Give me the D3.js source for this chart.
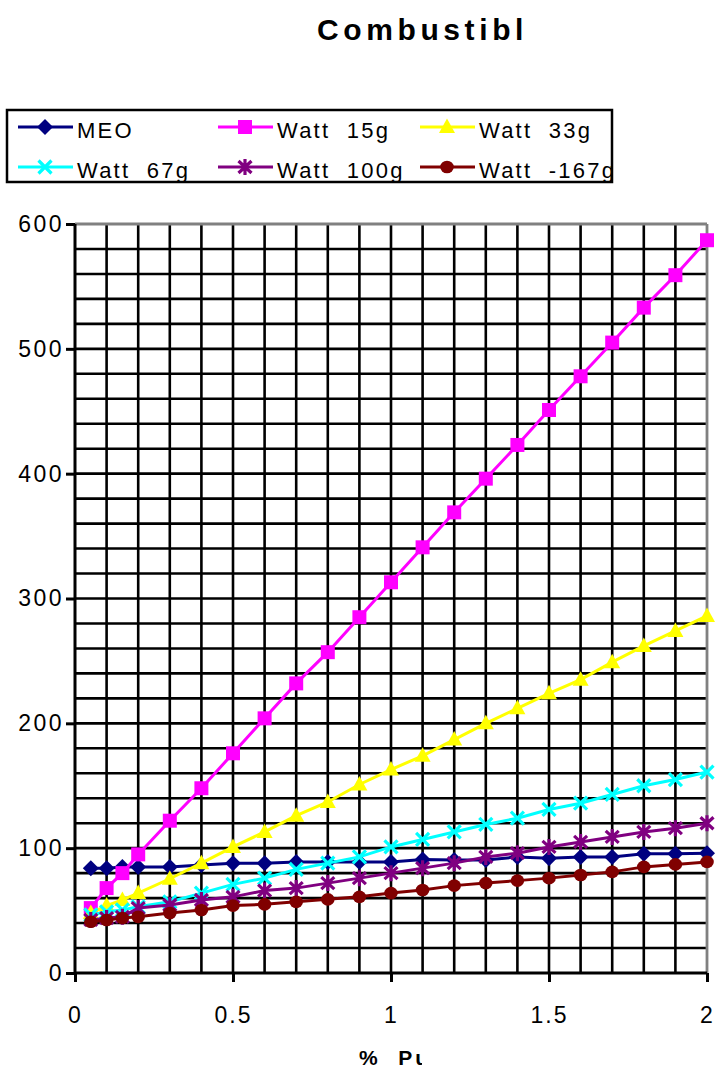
<!DOCTYPE html>
<html>
<head>
<meta charset="utf-8">
<script src="https://cdn.jsdelivr.net/npm/d3@7"></script>
<style>
  html, body { margin: 0; padding: 0; background: #fff; }
  svg { display: block; }
  text { font-family: "Liberation Sans", Arial, sans-serif; fill: #000; white-space: pre; }
</style>
</head>
<body>
<svg id="chart" width="719" height="1072"></svg>
<script>
// Pu content (%) on the x axis
const puPercent = [0.05, 0.1, 0.15, 0.2, 0.3, 0.4, 0.5, 0.6, 0.7, 0.8, 0.9, 1.0,
                   1.1, 1.2, 1.3, 1.4, 1.5, 1.6, 1.7, 1.8, 1.9, 2.0];

const seriesNames = ["MEO", "Watt  15g", "Watt  33g", "Watt  67g", "Watt  100g", "Watt  -167g"];

const meo      = [84, 84, 85, 85, 85, 86.5, 88, 88, 89, 89, 89, 89, 91, 90.6, 90.5, 93, 92, 93, 93, 95.5, 95.5, 96];
const watt15   = [52, 68, 80, 95, 122, 148, 176, 204, 232, 257, 285, 313, 341, 369, 396, 423, 451, 478, 505, 533, 559, 587];
const watt33   = [48, 54, 58.5, 64, 75.5, 88, 101, 113, 126, 137, 151, 163, 174, 187, 200, 212, 224, 235, 249, 262, 274, 286];
const watt67   = [46.5, 49, 50.5, 53, 57, 64, 71, 76, 83, 88, 93, 101, 107, 113, 119, 124, 131, 136, 143, 150, 155, 161];
const watt100  = [42.5, 44, 45, 52, 54.5, 58.5, 61, 66, 68, 72, 76, 80, 84, 88, 93, 96, 101, 105, 109, 113, 116, 120];
const wattM167 = [41, 42.5, 44, 45, 48, 50.5, 54, 55, 57, 59, 61, 64, 66.5, 70, 72, 74, 76, 78.5, 81, 85, 87, 89];

const xTickValues = [0, 0.5, 1, 1.5, 2];
const xTickLabels = ["0", "0.5", "1", "1.5", "2"];
const yTickValues = [0, 100, 200, 300, 400, 500, 600];
const yTickLabels = ["0", "100", "200", "300", "400", "500", "600"];

const titleText = "Combustibl";
const xTitleText = "%  Pu";

const allSeries = [meo, watt15, watt33, watt67, watt100, wattM167];
const colors = ["#000080", "#ff00ff", "#ffff00", "#00ffff", "#800080", "#800000"];
const markers = ["diamond", "square", "triangle", "cross", "star", "circle"];

const svg = d3.select("#chart");

const plot = { left: 75, right: 707, top: 224, bottom: 973 };
const x = d3.scaleLinear().domain([0, 2]).range([plot.left, plot.right]);
const y = d3.scaleLinear().domain([0, 600]).range([plot.bottom, plot.top]);

// Title
svg.append("text")
  .attr("x", 317).attr("y", 40)
  .style("font-size", "30px").style("font-weight", "bold").style("letter-spacing", "4.6px")
  .text(titleText);

// Grid
const grid = svg.append("g");
const xGrid = d3.range(1, 20).map(i => i / 10);
const yGrid = d3.range(1, 30).map(i => i * 20);
grid.selectAll("line.v").data(xGrid).join("line")
  .attr("x1", d => x(d)).attr("x2", d => x(d))
  .attr("y1", y(600)).attr("y2", y(0))
  .attr("stroke", "#000").attr("stroke-width", 2.6);
grid.selectAll("line.h").data(yGrid).join("line")
  .attr("x1", x(0)).attr("x2", x(2))
  .attr("y1", d => y(d)).attr("y2", d => y(d))
  .attr("stroke", "#000").attr("stroke-width", 2.6);

// Plot area border: grey top and right
grid.append("line").attr("x1", x(0)).attr("x2", x(2)).attr("y1", y(600)).attr("y2", y(600))
  .attr("stroke", "#808080").attr("stroke-width", 2.8);
grid.append("line").attr("x1", x(2)).attr("x2", x(2)).attr("y1", y(600)).attr("y2", y(0))
  .attr("stroke", "#808080").attr("stroke-width", 2.8);

// Axes
const xAxis = d3.axisBottom(x).tickValues(xTickValues).tickSize(9).tickPadding(25)
  .tickFormat((d, i) => xTickLabels[i]);
const yAxis = d3.axisLeft(y).tickValues(yTickValues).tickSize(9).tickPadding(2)
  .tickFormat((d, i) => yTickLabels[i]);

const gx = svg.append("g").attr("transform", `translate(0,${plot.bottom})`).call(xAxis);
const gy = svg.append("g").attr("transform", `translate(${plot.left},0)`).call(yAxis);

[gx, gy].forEach(g => {
  g.select(".domain").attr("stroke", "#000").attr("stroke-width", 3);
  g.selectAll(".tick line").attr("stroke", "#000").attr("stroke-width", 3);
  g.selectAll(".tick text").attr("fill", "#000")
    .style("font-family", '"Liberation Sans", Arial, sans-serif');
});
gx.select(".domain").attr("d", `M${plot.left},0H${plot.right}`);
gy.select(".domain").attr("d", `M0,${plot.top}V${plot.bottom}`);
gx.selectAll(".tick text").style("font-size", "23px").style("letter-spacing", "2px");
gy.selectAll(".tick text").style("font-size", "23px").style("letter-spacing", "2.5px");

// X axis title, clipped at its right side
svg.append("clipPath").attr("id", "xtitle-clip")
  .append("rect").attr("x", 300).attr("y", 1030).attr("width", 122).attr("height", 50);
svg.append("text")
  .attr("x", 359).attr("y", 1065)
  .attr("clip-path", "url(#xtitle-clip)")
  .style("font-size", "21px").style("font-weight", "bold").style("letter-spacing", "3px")
  .text(xTitleText);

// Marker shapes
function drawMarker(g, type, color, cx, cy) {
  const m = g.append("g").attr("transform", `translate(${cx},${cy})`);
  if (type === "diamond") {
    m.append("path").attr("d", "M0,-8L8,0L0,8L-8,0Z").attr("fill", color);
  } else if (type === "square") {
    m.append("path").attr("d", "M-7,-7H7V7H-7Z").attr("fill", color);
  } else if (type === "triangle") {
    m.append("path").attr("d", "M0,-8.5L8,6L-8,6Z").attr("fill", color);
  } else if (type === "cross") {
    m.append("path").attr("d", "M-6.5,-6.5L6.5,6.5M-6.5,6.5L6.5,-6.5")
      .attr("stroke", color).attr("stroke-width", 3.2).attr("fill", "none");
  } else if (type === "star") {
    m.append("path").attr("d", "M-6.5,-6L6.5,6M-6.5,6L6.5,-6M0,-8V8")
      .attr("stroke", color).attr("stroke-width", 3.2).attr("fill", "none");
  } else if (type === "circle") {
    m.append("ellipse").attr("rx", 6.8).attr("ry", 6.3).attr("fill", color);
  }
}

// Series lines and markers
const line = d3.line().x((d, i) => x(puPercent[i])).y(d => y(d));
allSeries.forEach((vals, s) => {
  const g = svg.append("g");
  g.append("path").datum(vals).attr("d", line)
    .attr("fill", "none").attr("stroke", colors[s]).attr("stroke-width", 3);
  vals.forEach((v, i) => drawMarker(g, markers[s], colors[s], x(puPercent[i]), y(v)));
});

// Legend
const legend = svg.append("g");
const lg = { x: 7, y: 110, w: 605, h: 72 };
svg.append("clipPath").attr("id", "legend-clip")
  .append("rect").attr("x", lg.x).attr("y", lg.y).attr("width", lg.w - 1).attr("height", lg.h);
legend.append("rect").attr("x", lg.x).attr("y", lg.y).attr("width", lg.w).attr("height", lg.h)
  .attr("fill", "#fff").attr("stroke", "#000").attr("stroke-width", 2.5);
const colX = [18, 218, 420];
const rowY = [127, 167];
const legendItems = legend.append("g").attr("clip-path", "url(#legend-clip)");
seriesNames.forEach((name, s) => {
  const cx = colX[s % 3], cy = rowY[Math.floor(s / 3)];
  legendItems.append("line").attr("x1", cx).attr("x2", cx + 55).attr("y1", cy).attr("y2", cy)
    .attr("stroke", colors[s]).attr("stroke-width", 3);
  drawMarker(legendItems, markers[s], colors[s], cx + 27, cy);
  legendItems.append("text").attr("x", cx + 59).attr("y", cy + 11)
    .style("font-size", "22px").style("letter-spacing", "2.2px")
    .text(name);
});
</script>
</body>
</html>
